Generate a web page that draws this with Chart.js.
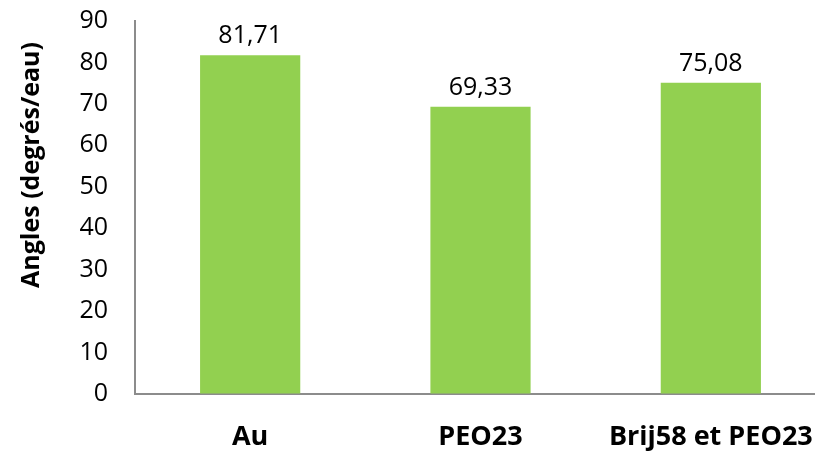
<!DOCTYPE html>
<html>
<head>
<meta charset="utf-8">
<script src="https://cdn.jsdelivr.net/npm/chart.js@4"></script>
<style>
  html, body { margin: 0; padding: 0; background: #fff; overflow: hidden; }
  #wrap { width: 830px; height: 452px; }
</style>
</head>
<body>
<div id="wrap"><canvas id="angles-chart"></canvas></div>
<script>
// Contact angles per surface treatment
const categories = ['Au', 'PEO23', 'Brij58 et PEO23'];
const angles = [81.71, 69.33, 75.08];
const yTicks = [0, 10, 20, 30, 40, 50, 60, 70, 80, 90];
const yTitle = 'Angles (degrés/eau)';

const FONT = '"Open Sans", "DejaVu Sans", sans-serif';

// Writes the value above each bar, with a comma as decimal separator
const valueLabels = {
    id: 'valueLabels',
    afterDatasetsDraw(chart) {
        const ctx = chart.ctx;
        const meta = chart.getDatasetMeta(0);
        ctx.save();
        ctx.font = '25px ' + FONT;
        ctx.fillStyle = '#000';
        ctx.textAlign = 'center';
        ctx.textBaseline = 'alphabetic';
        meta.data.forEach((bar, i) => {
            const text = angles[i].toFixed(2).replace('.', ',');
            ctx.fillText(text, bar.x, bar.y - 12);
        });
        ctx.restore();
    }
};

// Vertical axis title, sitting a bit above the middle of the plot
const axisTitle = {
    id: 'axisTitle',
    afterDraw(chart) {
        const ctx = chart.ctx;
        ctx.save();
        ctx.translate(32, 165);
        ctx.rotate(-Math.PI / 2);
        ctx.font = 'bold 25px ' + FONT;
        ctx.fillStyle = '#000';
        ctx.textAlign = 'center';
        ctx.textBaseline = 'middle';
        ctx.fillText(yTitle, 0, 0);
        ctx.restore();
    }
};

// invisible tick marks push the labels away from the axis lines
// (tick padding would also pad the chart area)
const hiddenTicks = (len) => ({
    display: true,
    drawOnChartArea: false,
    drawTicks: true,
    tickLength: len,
    tickColor: 'rgba(0,0,0,0)'
});

const ctx = document.getElementById('angles-chart').getContext('2d');
new Chart(ctx, {
    type: 'bar',
    data: {
        labels: categories,
        datasets: [{
            data: angles,
            backgroundColor: '#92d050',
            borderWidth: 0,
            categoryPercentage: 1,
            barPercentage: 0.435
        }]
    },
    options: {
        responsive: true,
        maintainAspectRatio: false,
        animation: false,
        layout: {
            autoPadding: false,
            padding: { top: 21, right: 4, left: 0, bottom: 0 }
        },
        plugins: {
            legend: { display: false },
            tooltip: { enabled: false }
        },
        scales: {
            x: {
                grid: hiddenTicks(27),
                border: { color: '#8c8c8c', width: 2 },
                ticks: {
                    color: '#000',
                    font: { family: FONT, size: 27, weight: 'bold' },
                    padding: 0,
                    maxRotation: 0,
                    autoSkip: false
                },
                afterFit(scale) { scale.height = 58; }
            },
            y: {
                min: 0,
                max: 90,
                afterBuildTicks(scale) {
                    scale.ticks = yTicks.map(v => ({ value: v }));
                },
                grid: hiddenTicks(27),
                border: { color: '#8c8c8c', width: 2 },
                ticks: {
                    color: '#000',
                    font: { family: FONT, size: 25 },
                    padding: 0
                },
                afterFit(scale) { scale.width = 135; }
            }
        }
    },
    plugins: [valueLabels, axisTitle]
});
</script>
</body>
</html>
